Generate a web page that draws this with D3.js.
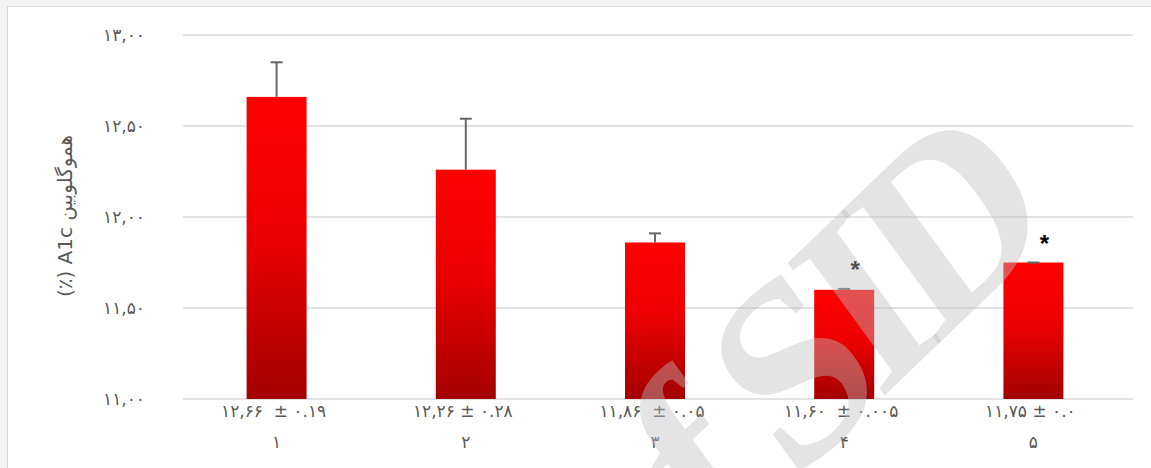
<!DOCTYPE html>
<html>
<head>
<meta charset="utf-8">
<script src="https://cdn.jsdelivr.net/npm/d3@7"></script>
<style>
  html, body { margin: 0; padding: 0; background: #f3f3f3; }
  svg { display: block; }
  text { white-space: pre; }
</style>
</head>
<body>
<svg id="chart" width="1151" height="468"></svg>
<script>
// Group labels (x axis)
const categories = ["۱", "۲", "۳", "۴", "۵"];
// Mean HbA1c per group and its error (SD)
const means = [12.66, 12.26, 11.86, 11.60, 11.75];
const errors = [0.19, 0.28, 0.05, 0.005, 0];
// Mean ± SD text shown under each bar
const valueLabels = ["۱۲,۶۶  ± ۰.۱۹", "۱۲,۲۶ ± ۰.۲۸", "۱۱,۸۶  ± ۰.۰۵", "۱۱,۶۰  ± ۰.۰۰۵", "۱۱,۷۵ ± ۰.۰"];
// Groups marked as significant
const significant = [false, false, false, true, true];
// Y axis ticks
const yTicks = [11, 11.5, 12, 12.5, 13];
const yTickLabels = ["۱۱,۰۰", "۱۱,۵۰", "۱۲,۰۰", "۱۲,۵۰", "۱۳,۰۰"];
const yTitle = "(٪) A1c هموگلوبین";

const svg = d3.select("#chart");
const W = 1151, H = 468;
const plot = { left: 183, right: 1133, top: 35, bottom: 399 };
const textGray = "#595959";
const fontNum = "'DejaVu Sans', sans-serif";

// chart area
svg.append("rect")
  .attr("x", 7.5).attr("y", 6.5)
  .attr("width", W).attr("height", H)
  .attr("fill", "#ffffff")
  .attr("stroke", "#d9d9d9").attr("stroke-width", 1);

const x = d3.scaleBand()
  .domain(categories)
  .range([plot.left - 1, plot.right - 5])
  .paddingInner(0.683)
  .paddingOuter(0.3415);

const y = d3.scaleLinear()
  .domain([yTicks[0], yTicks[yTicks.length - 1]])
  .range([plot.bottom, plot.top]);

// gridlines
svg.append("g")
  .selectAll("line")
  .data(yTicks)
  .join("line")
  .attr("x1", plot.left).attr("x2", plot.right)
  .attr("y1", d => y(d)).attr("y2", d => y(d))
  .attr("stroke", "#d9d9d9").attr("stroke-width", 1.5);

// y tick labels via axis generator
const yAxis = d3.axisLeft(y)
  .tickValues(yTicks)
  .tickSize(0)
  .tickPadding(0)
  .tickFormat((d, i) => yTickLabels[i]);
const yg = svg.append("g")
  .attr("transform", `translate(${plot.left - 38},0)`)
  .call(yAxis);
yg.select(".domain").remove();
yg.selectAll("text")
  .attr("fill", textGray)
  .attr("font-family", fontNum)
  .attr("font-size", 17)
  .attr("letter-spacing", 3.5);

// y axis title
svg.append("text")
  .attr("transform", `translate(72,${(plot.top + plot.bottom) / 2 - 1}) rotate(-90)`)
  .attr("text-anchor", "middle")
  .attr("font-family", fontNum)
  .attr("font-size", 20)
  .attr("fill", textGray)
  .text(yTitle);

// bar gradient
const defs = svg.append("defs");
const grad = defs.append("linearGradient")
  .attr("id", "barFill")
  .attr("x1", 0).attr("y1", 0).attr("x2", 0).attr("y2", 1);
grad.append("stop").attr("offset", "0%").attr("stop-color", "#ff0000");
grad.append("stop").attr("offset", "45%").attr("stop-color", "#ee0000");
grad.append("stop").attr("offset", "100%").attr("stop-color", "#a30000");

const rows = categories.map((c, i) => ({ c, m: means[i], e: errors[i], lab: valueLabels[i], sig: significant[i] }));

// bars
svg.append("g")
  .selectAll("rect")
  .data(rows)
  .join("rect")
  .attr("x", d => x(d.c))
  .attr("width", x.bandwidth())
  .attr("y", d => y(d.m))
  .attr("height", d => y(yTicks[0]) - y(d.m))
  .attr("fill", "url(#barFill)");

// error bars (upper)
const eb = svg.append("g").attr("stroke", "#666666").attr("stroke-width", 2);
eb.selectAll("line.stem")
  .data(rows)
  .join("line")
  .attr("class", "stem")
  .attr("x1", d => x(d.c) + x.bandwidth() / 2)
  .attr("x2", d => x(d.c) + x.bandwidth() / 2)
  .attr("y1", d => y(d.m))
  .attr("y2", d => y(d.m + d.e));
eb.selectAll("line.cap")
  .data(rows)
  .join("line")
  .attr("class", "cap")
  .attr("x1", d => x(d.c) + x.bandwidth() / 2 - 6)
  .attr("x2", d => x(d.c) + x.bandwidth() / 2 + 6)
  .attr("y1", d => y(d.m + d.e))
  .attr("y2", d => y(d.m + d.e));

// significance marks
svg.append("g")
  .selectAll("text")
  .data(rows.filter(d => d.sig))
  .join("text")
  .attr("x", d => x(d.c) + x.bandwidth() / 2 + 11)
  .attr("y", d => y(d.m + d.e) - 11)
  .attr("text-anchor", "middle")
  .attr("font-family", "'Liberation Sans', sans-serif")
  .attr("font-weight", "bold")
  .attr("font-size", 24)
  .attr("fill", "#000000")
  .text("*");

// labels below bars
const lab = svg.append("g")
  .attr("font-family", fontNum)
  .attr("font-size", 17)
  .attr("letter-spacing", 1.6)
  .attr("fill", textGray)
  .attr("text-anchor", "middle");
lab.selectAll("text.val")
  .data(rows)
  .join("text")
  .attr("class", "val")
  .attr("x", d => x(d.c) + x.bandwidth() / 2 - 3)
  .attr("y", plot.bottom + 18)
  .text(d => d.lab);
lab.selectAll("text.cat")
  .data(rows)
  .join("text")
  .attr("class", "cat")
  .attr("x", d => x(d.c) + x.bandwidth() / 2)
  .attr("y", plot.bottom + 49)
  .text(d => d.c);

// watermark
svg.append("text")
  .attr("transform", "translate(1050,236) scale(1,1.15) rotate(-40)")
  .attr("text-anchor", "end")
  .attr("font-family", "'Liberation Serif', serif")
  .attr("font-weight", "bold")
  .attr("font-size", 230)
  .attr("letter-spacing", -16)
  .attr("fill", "rgb(190,190,190)")
  .attr("fill-opacity", 0.42)
  .text("Archive of SID");
</script>
</body>
</html>
